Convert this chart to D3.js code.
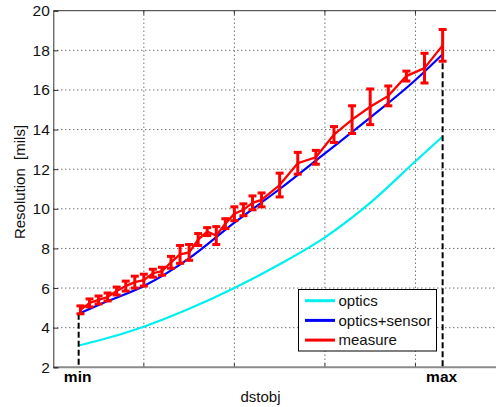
<!DOCTYPE html>
<html>
<head>
<meta charset="utf-8">
<script src="https://cdn.jsdelivr.net/npm/d3@7"></script>
<style>
  body { margin: 0; background: #fff; }
  svg { display: block; font-family: "Liberation Sans", Arial, sans-serif; }
</style>
</head>
<body>
<svg id="chart" width="496" height="407"></svg>
<script>
// measured points (dstobj, resolution in mils, error)
const measX = [0.3, 0.4, 0.5, 0.6, 0.7, 0.8, 0.9, 1.0, 1.1, 1.2, 1.3, 1.4, 1.5, 1.6, 1.7, 1.8, 1.9, 2.0, 2.1, 2.2, 2.3,
               2.5, 2.7, 2.9, 3.1, 3.3, 3.5, 3.7, 3.9, 4.1, 4.3];
const measY = [4.9, 5.25, 5.4, 5.55, 5.85, 6.1, 6.3, 6.4, 6.75, 6.85, 7.3, 7.7, 7.8, 8.45, 8.85, 8.65, 9.25, 9.75, 9.95, 10.3, 10.45,
               11.2, 12.3, 12.6, 13.75, 14.5, 15.15, 15.7, 16.7, 17.1, 18.25];
const measErr = [0.2, 0.2, 0.2, 0.2, 0.2, 0.25, 0.3, 0.3, 0.2, 0.2, 0.3, 0.45, 0.4, 0.3, 0.2, 0.45, 0.25, 0.35, 0.3, 0.35, 0.35,
                 0.6, 0.55, 0.35, 0.4, 0.7, 0.9, 0.5, 0.25, 0.75, 0.8];

// model curves
const curveX = [0.28, 0.5, 1.0, 1.5, 2.0, 2.5, 3.0, 3.5, 4.0, 4.3];
const sensorY = [4.7, 5.15, 6.1, 7.5, 9.3, 11.0, 12.8, 14.6, 16.5, 17.8];
const opticsY = [3.1, 3.35, 4.05, 4.95, 6.0, 7.2, 8.56, 10.3, 12.4, 13.65];

const minX = 0.28, maxX = 4.3;
const xGrid = [1, 2, 3, 4];
const yTicks = [2, 4, 6, 8, 10, 12, 14, 16, 18, 20];

const legendNames = ["optics", "optics+sensor", "measure"];
const legendColors = ["#00f0f0", "#0000ff", "#ff0000"];

const svg = d3.select("#chart");

const x = d3.scaleLinear().domain([0, 5]).range([53.3, 506]);
const y = d3.scaleLinear().domain([2, 20]).range([367.3, 10.7]);

// grid
const grid = svg.append("g")
    .attr("stroke", "#333")
    .attr("stroke-width", 1)
    .attr("stroke-dasharray", "1,3");
grid.selectAll(".gx")
    .data(xGrid)
    .join("line")
    .attr("x1", d => x(d)).attr("x2", d => x(d))
    .attr("y1", y(20)).attr("y2", y(2));
grid.selectAll(".gy")
    .data(yTicks.slice(1, -1))
    .join("line")
    .attr("x1", x(0)).attr("x2", x(5))
    .attr("y1", d => y(d)).attr("y2", d => y(d));

// small inward ticks on top and bottom
svg.append("g").selectAll("line")
    .data(xGrid)
    .join("line")
    .attr("x1", d => x(d)).attr("x2", d => x(d))
    .attr("y1", y(20)).attr("y2", y(20) + 4)
    .attr("stroke", "#333");
svg.append("g").selectAll("line")
    .data(xGrid)
    .join("line")
    .attr("x1", d => x(d)).attr("x2", d => x(d))
    .attr("y1", y(2)).attr("y2", y(2) - 4)
    .attr("stroke", "#333");

// box
svg.append("line")
    .attr("x1", x(0)).attr("x2", x(5))
    .attr("y1", y(20)).attr("y2", y(20))
    .attr("stroke", "#333");
svg.append("line")
    .attr("x1", x(0)).attr("x2", x(5))
    .attr("y1", y(2)).attr("y2", y(2))
    .attr("stroke", "#8a8a8a").attr("stroke-width", 2);

// y axis
const yAxis = svg.append("g")
    .attr("transform", "translate(" + x(0) + ",0)")
    .call(d3.axisLeft(y).tickValues(yTicks).tickSize(-5).tickPadding(3.5));
yAxis.select(".domain").attr("stroke", "#333");
yAxis.selectAll(".tick line").attr("stroke", "#333");
yAxis.selectAll(".tick text")
    .attr("font-size", 15.5)
    .attr("font-family", "Liberation Sans, Arial, sans-serif")
    .attr("fill", "#111");

// curves
const line = d3.line()
    .x(d => x(d[0]))
    .y(d => y(d[1]))
    .curve(d3.curveMonotoneX);

svg.append("path")
    .datum(curveX.map((v, i) => [v, opticsY[i]]))
    .attr("d", line)
    .attr("fill", "none")
    .attr("stroke", legendColors[0])
    .attr("stroke-width", 2.2);

svg.append("path")
    .datum(curveX.map((v, i) => [v, sensorY[i]]))
    .attr("d", line)
    .attr("fill", "none")
    .attr("stroke", legendColors[1])
    .attr("stroke-width", 2.2);

// min / max markers
const marks = [[minX, sensorY[0]], [maxX, sensorY[sensorY.length - 1]]];
svg.append("g").selectAll("line")
    .data(marks)
    .join("line")
    .attr("x1", d => x(d[0])).attr("x2", d => x(d[0]))
    .attr("y1", d => y(d[1])).attr("y2", y(2))
    .attr("stroke", "#000")
    .attr("stroke-width", 2)
    .attr("stroke-dasharray", "6,3");

svg.append("g").selectAll("text")
    .data([["min", minX], ["max", maxX]])
    .join("text")
    .attr("x", d => x(d[1]) - 1)
    .attr("y", 382)
    .attr("text-anchor", "middle")
    .attr("font-size", 15.5)
    .attr("font-weight", "bold")
    .text(d => d[0]);

// measure
const meas = measX.map((v, i) => ({x: v, y: measY[i], e: measErr[i]}));

svg.append("path")
    .datum(meas)
    .attr("d", d3.line().x(d => x(d.x)).y(d => y(d.y)))
    .attr("fill", "none")
    .attr("stroke", "#ff0000")
    .attr("stroke-width", 2.3);

const bars = svg.append("g")
    .attr("stroke", "#ff0000")
    .attr("stroke-width", 3);
bars.selectAll(".v")
    .data(meas)
    .join("line")
    .attr("x1", d => x(d.x)).attr("x2", d => x(d.x))
    .attr("y1", d => y(d.y - d.e) + 1).attr("y2", d => y(d.y + d.e) - 1);
bars.selectAll(".t")
    .data(meas)
    .join("line")
    .attr("x1", d => x(d.x) - 4).attr("x2", d => x(d.x) + 4)
    .attr("y1", d => y(d.y + d.e)).attr("y2", d => y(d.y + d.e));
bars.selectAll(".b")
    .data(meas)
    .join("line")
    .attr("x1", d => x(d.x) - 4).attr("x2", d => x(d.x) + 4)
    .attr("y1", d => y(d.y - d.e)).attr("y2", d => y(d.y - d.e));

// axis titles
svg.append("text")
    .attr("x", 260.5)
    .attr("y", 402)
    .attr("text-anchor", "middle")
    .attr("font-size", 15)
    .attr("fill", "#111")
    .text("dstobj");

svg.append("text")
    .attr("transform", "translate(25,182) rotate(-90)")
    .attr("text-anchor", "middle")
    .attr("font-size", 15)
    .attr("fill", "#111")
    .style("white-space", "pre")
    .text("Resolution  [mils]");

// legend
const legend = svg.append("g");
legend.append("rect")
    .attr("x", 298.5).attr("y", 289.5)
    .attr("width", 138).attr("height", 61.5)
    .attr("fill", "#fff")
    .attr("stroke", "#000");
const rows = legend.selectAll("g")
    .data(legendNames)
    .join("g")
    .attr("transform", (d, i) => "translate(0," + (300.7 + i * 19.7) + ")");
rows.append("line")
    .attr("x1", 305).attr("x2", 335)
    .attr("stroke", (d, i) => legendColors[i])
    .attr("stroke-width", 3);
rows.append("text")
    .attr("x", 338.5)
    .attr("dy", "0.35em")
    .attr("font-size", 15)
    .attr("fill", "#111")
    .text(d => d);
</script>
</body>
</html>
